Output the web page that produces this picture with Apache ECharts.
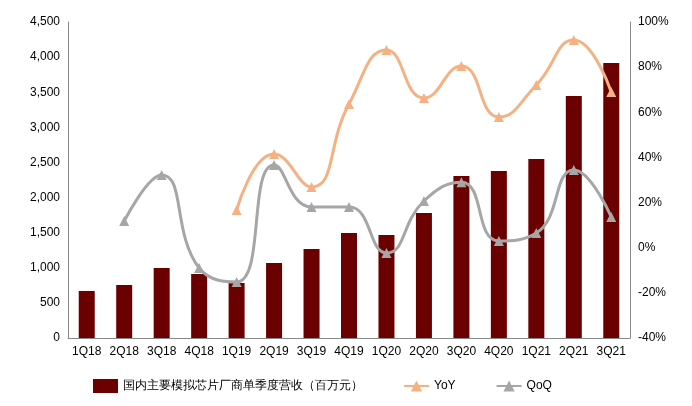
<!DOCTYPE html>
<html><head><meta charset="utf-8">
<script src="https://cdn.jsdelivr.net/npm/echarts@6/dist/echarts.min.js"></script>
<style>body{margin:0}#c{width:692px;height:406px}</style></head>
<body><div id="c"></div>
<script>
var categories = ['1Q18','2Q18','3Q18','4Q18','1Q19','2Q19','3Q19','4Q19','1Q20','2Q20','3Q20','4Q20','1Q21','2Q21','3Q21'];
var revenue = [670,755,997,912,783,1068,1268,1496,1467,1780,2308,2379,2550,3447,3917];
var yoy = [null,null,null,null,16.7,41.5,26.9,63.7,87.6,66.3,80.5,57.9,72.1,92,69];
var qoq = [null,11.8,32.2,-9,-15.2,36.6,18,18,-2.3,20.7,29,3,6.5,34.4,13.6];

var chart = echarts.init(document.getElementById('c'));
var font = {fontFamily: 'Liberation Sans', fontSize: 12, color: '#000'};
var option = {
    animation: false,
    textStyle: {fontFamily: 'Liberation Sans'},
    grid: {left: 68, right: 62, top: 22, bottom: 68},
    legend: {
        bottom: 8, left: 88, itemGap: 40, textStyle: font,
        data: [{name: '国内主要模拟芯片厂商单季度营收（百万元）', icon: 'rect'}, 'YoY', 'QoQ']
    },
    xAxis: {
        type: 'category', data: categories,
        axisTick: {show: false},
        axisLine: {lineStyle: {color: '#888'}},
        axisLabel: Object.assign({interval: 0, margin: 8}, font)
    },
    yAxis: [
        {type: 'value', min: 0, max: 4500, interval: 500, splitLine: {show: false},
         axisLine: {show: true, lineStyle: {color: '#888'}},
         axisLabel: Object.assign({formatter: function (v) { return v.toLocaleString('en-US'); }}, font)},
        {type: 'value', min: -40, max: 100, interval: 20, splitLine: {show: false},
         axisLine: {show: true, lineStyle: {color: '#888'}},
         axisLabel: Object.assign({formatter: '{value}%'}, font)}
    ],
    series: [
        {name: '国内主要模拟芯片厂商单季度营收（百万元）', type: 'bar', data: revenue,
         barWidth: 16, itemStyle: {color: '#6b0000'}},
        {name: 'YoY', type: 'line', yAxisIndex: 1, data: yoy, smooth: true,
         symbol: 'triangle', symbolSize: 10, lineStyle: {color: '#f4b183', width: 3},
         itemStyle: {color: '#f4b183'}},
        {name: 'QoQ', type: 'line', yAxisIndex: 1, data: qoq, smooth: true,
         symbol: 'triangle', symbolSize: 10, lineStyle: {color: '#a6a6a6', width: 3},
         itemStyle: {color: '#a6a6a6'}}
    ]
};
chart.setOption(option);
</script></body></html>
